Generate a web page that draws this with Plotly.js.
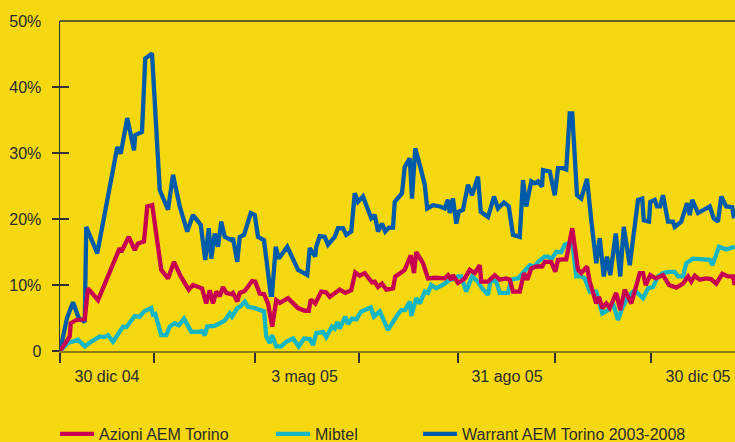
<!DOCTYPE html>
<html>
<head>
<meta charset="utf-8">
<script src="https://cdn.plot.ly/plotly-3.0.1.min.js"></script>
<style>html,body{margin:0;padding:0;background:#F5D80F;}#chart{width:735px;height:442px;}</style>
</head>
<body>
<div id="chart"></div>
<script>
// time index (trading-session units) and percentage performance
const tWarrant = [0,2.8,5.2,7.5,9.9,10.5,14.9,22.9,24.3,26.9,29.6,30.1,32.8,34.1,36.8,39.9,43.2,45.2,47.9,50.9,53.2,56.3,58.1,59.5,60.5,61.9,63.2,64.5,65.9,68.5,69.2,70.9,71.9,73.6,76.3,77.9,79.2,81.6,84.3,84.8,86.3,87.5,90.9,95.2,98.9,99.9,102.1,102.5,103.9,105.9,107.2,109.9,111.2,113.2,114.5,116.5,117.9,119.2,121.2,124.5,125.9,127.2,128.8,130.1,131.6,133.2,133.9,135.9,136.8,137.9,139.9,140.8,142.1,143.9,145.9,146.9,149.2,152,153.9,155.2,155.9,157.2,158.5,159.5,161.2,163.2,164.8,167.2,168.3,171.2,172.3,173.6,175.2,177.6,179.5,181.2,183.9,185.2,186.5,188.5,189.9,191.2,192.8,193.2,195.9,197.9,199.2,201.2,202.5,203.9,204.9,206.8,208.5,210.8,212.5,214.5,215.9,217.5,218.8,220.1,222.3,224.1,225.5,227.9,231.2,232.9,233.5,235.6,236.1,237.9,238.8,240,241.2,243.2,245.2,245.9,248.5,250.8,251.9,252.9,255.2,257.9,259.9,261.5,263.2,264.5,266.5,268.9,269.6];
const vWarrant = [0,5.0,7.4,5.0,4.4,18.8,14.8,30.9,29.9,35.3,30.4,32.7,33.2,44.3,45.1,24.4,21.4,26.7,21.9,18.1,20.6,19.1,13.8,18.6,14.0,17.8,15.8,19.6,17.3,16.8,17.1,13.5,17.3,17.6,20.9,20.6,17.3,16.8,8.5,8.5,15.8,14.0,15.8,12.3,11.5,15.6,14.3,15.8,17.4,17.3,16.1,17.3,18.6,18.6,17.6,18.1,23.9,22.6,23.4,20.1,20.6,18.1,19.3,18.1,18.7,18.7,22.6,23.4,23.9,27.9,29.2,23.1,30.7,28.2,25.2,21.6,22.1,21.9,21.6,22.9,20.9,23.1,19.3,21.1,21.4,25.2,23.6,26.4,21.1,20.3,21.6,23.4,21.6,22.5,21.9,17.6,17.3,25.9,21.9,25.7,25.4,25.7,24.9,27.4,27.2,23.6,27.7,27.7,27.5,36.0,36.0,23.6,23.1,26.1,19.8,13.3,17.1,11.3,14.3,11.5,17.8,11.3,18.8,13.0,22.9,23.1,19.8,19.6,22.6,22.9,21.9,21.9,23.6,19.6,19.6,18.8,19.6,22.4,20.6,22.9,20.9,21.4,21.9,20.1,19.6,23.4,21.9,21.8,20.1];

const tAzioni = [0,3.9,4.3,6.5,9.9,11.2,15.2,23.9,24.5,27.5,29.9,31.2,33.6,34.9,36.9,40.5,43.2,45.6,48.3,51.5,53.2,56.8,58.5,59.9,61.2,62.5,63.9,65.2,66.5,68.5,69.2,70.9,71.9,73.9,76.8,78.1,79.9,81.6,83.2,84.9,86.5,87.9,91.2,95.2,97.9,99.5,100.3,102.1,104.5,106.4,107.9,110.5,111.9,114.1,116.5,118.1,119.9,121.9,124.8,125.9,127.2,128.8,130.5,133.2,134.1,136.5,137.9,140.3,141.6,142.5,145.2,147.2,150,153.9,155.2,156.5,157.2,159.2,161.9,163.9,165.9,167.9,168.5,171.2,173.9,175.9,178.5,179.9,181.2,183.9,185.6,186.9,188.5,190.5,192.8,193.9,196.5,198.1,199.2,201.9,202.5,204.9,207.2,208.5,210.8,211.9,214.5,215.6,216.9,218.5,219.9,222.5,224.1,225.9,226.8,228.5,231.9,233.2,234.3,236.1,238.3,241.2,243.6,246.5,249.2,251.2,252.5,253.9,255.9,258.5,260.4,262.5,264.9,267.2,269.2,269.9];
const vAzioni = [0,2.2,4.2,4.7,4.8,9.5,7.7,15.6,15.0,17.3,15.3,16.3,16.6,21.9,22.1,12.3,11.0,13.5,11.3,9.3,10.0,9.5,7.2,9.2,7.2,9.0,8.3,9.7,8.8,8.6,8.8,7.5,8.8,9.1,10.6,10.5,8.7,8.6,7.2,3.7,7.7,7.3,8.0,6.5,6.1,6.1,7.8,7.2,9.0,8.9,8.2,9.0,9.3,8.8,9.2,11.9,11.4,11.8,10.4,10.5,9.7,10.2,9.3,9.5,11.3,11.9,12.3,14.5,11.8,15.0,13.3,11.0,11.1,11.0,11.5,10.8,11.5,10.3,11.0,12.3,11.8,13.0,10.5,10.5,11.5,10.8,11.0,10.8,9.0,9.0,11.8,10.8,12.5,12.8,12.8,13.5,13.5,12.0,13.8,13.9,13.9,18.6,12.3,11.8,12.8,10.5,7.2,8.2,6.5,7.2,6.5,8.8,6.2,9.3,8.6,7.2,11.8,11.8,10.0,11.5,11.0,11.5,10.0,9.6,10.2,11.3,10.5,11.4,10.8,11.0,10.9,10.2,11.7,11.3,11.3,10.0];

const tMibtel = [0,3.2,7.2,9.9,12.5,15.9,17.6,19.2,21.2,25.2,26.5,29.9,31.9,33.6,36.5,37.2,38.1,40.5,42.5,43.9,45.9,47.5,49.6,52.5,55.2,56.8,57.9,58.9,61.9,64.5,65.9,67.9,68.8,70.9,72.3,73.9,75.2,77.9,81.6,82.5,83.9,84.8,86.5,88.5,90.5,93.2,95.5,97.6,99.9,101.2,102.5,105.2,106.5,108.8,109.9,110.9,111.9,114.1,115.2,116.8,118.5,120.5,122.1,124.3,125.6,127.9,131.2,133.9,135.2,136.5,138,139.9,140.5,142.5,143.9,145.9,147.2,148.5,150.5,153.9,155.9,157.9,159.2,160.5,162.5,164.8,167.2,168.8,171.2,172.3,174.5,175.9,179.2,180.5,183.2,185.6,187.9,189.9,191.2,193.9,195.2,196.5,198.5,200.5,201.9,203.2,204.9,206.5,208.5,209.9,211.9,214.5,216.9,219.2,221.2,223.2,224.9,227.2,229.9,233.2,235.2,237.2,239.2,241.2,243.6,245.9,247.2,249.2,250.5,253.2,257.2,259.9,260.9,262.5,263.6,266.5,269.9];
const vMibtel = [0,1.2,1.7,0.7,1.4,2.2,2.1,2.4,1.4,3.7,3.6,5.3,5.2,6.0,6.5,5.5,5.6,2.4,2.4,3.7,4.2,3.9,4.9,2.9,2.9,3.0,2.4,3.7,3.8,4.4,4.6,5.7,5.2,6.5,6.8,7.5,6.7,6.5,6.0,2.2,1.2,2.4,0.7,0.7,1.4,1.9,0.7,1.9,1.8,0.9,2.7,2.9,2.1,3.7,3.4,4.4,3.4,5.2,4.1,4.9,4.8,6.0,6.2,6.6,5.2,6.0,3.2,4.9,5.6,6.2,6.2,7.5,5.3,8.0,7.2,9.0,8.8,10.0,9.5,10.2,10.8,10.9,11.3,11.3,9.0,11.3,10.5,9.5,8.5,10.8,10.5,8.8,8.8,10.8,11.0,12.0,13.0,12.8,13.5,14.3,14.3,13.9,15.0,15.0,16.1,16.3,16.5,11.3,11.3,11.0,9.0,9.0,5.7,6.2,7.2,4.7,6.5,8.2,9.2,8.0,9.5,9.7,11.3,11.8,12.0,12.0,11.3,11.3,13.3,14.0,13.9,13.8,13.0,14.5,15.8,15.4,15.8];

const tickPositions = [0,37.6,78,119.6,159.2,198,236.4];
const dateLabelPositions = [18.8,97.8,178.8,255.2];
const dateLabels = ['30 dic 04','3 mag 05','31 ago 05','30 dic 05'];
const yTickVals = [0,10,20,30,40,50];
const yTickText = ['0','10%','20%','30%','40%','50%'];
const yMarkVals = [0,10,20,30,40];

const BG = '#F5D80F';
const INK = '#2b2b2b';
const FONT = 'Liberation Sans, Arial, Helvetica, sans-serif';

const traces = [
  {x: tMibtel, y: vMibtel, name: 'Mibtel', type: 'scatter', mode: 'lines',
   line: {color: '#14B6C3', width: 4.3}, legend: 'legend2', hoverinfo: 'skip'},
  {x: tWarrant, y: vWarrant, name: 'Warrant AEM Torino 2003-2008', type: 'scatter', mode: 'lines',
   line: {color: '#005BAA', width: 4.3}, legend: 'legend3', hoverinfo: 'skip'},
  {x: tAzioni, y: vAzioni, name: 'Azioni AEM Torino', type: 'scatter', mode: 'lines',
   line: {color: '#C7004F', width: 4.3}, legend: 'legend', hoverinfo: 'skip'},
  {x: [null], y: [null], xaxis: 'x2', yaxis: 'y2', showlegend: false, mode: 'lines', hoverinfo: 'skip'},
  {x: [null], y: [null], xaxis: 'x', yaxis: 'y3', showlegend: false, mode: 'lines', hoverinfo: 'skip'}
];

const legendBase = {orientation: 'h', xref: 'container', yref: 'container', xanchor: 'left', yanchor: 'middle',
  y: 0.018, itemwidth: 34, bgcolor: 'rgba(0,0,0,0)', borderwidth: 0, font: {family: FONT, size: 16, color: INK}};

const layout = {
  width: 735, height: 442,
  margin: {l: 60, r: 0, t: 21, b: 91, autoexpand: false},
  paper_bgcolor: BG, plot_bgcolor: BG,
  font: {family: FONT, size: 16, color: INK},
  showlegend: true,
  legend: Object.assign({}, legendBase, {x: 55/735}),
  legend2: Object.assign({}, legendBase, {x: 271/735}),
  legend3: Object.assign({}, legendBase, {x: 418/735}),
  xaxis: {range: [0, 270], tickmode: 'array', tickvals: tickPositions, ticktext: tickPositions.map(() => ''),
    ticks: 'outside', ticklen: 10, tickwidth: 1.5, tickcolor: '#333',
    showline: true, linecolor: '#8C7A14', linewidth: 2, showgrid: false, zeroline: false, fixedrange: true},
  xaxis2: {overlaying: 'x', side: 'bottom', range: [0, 270], tickmode: 'array', tickvals: dateLabelPositions,
    ticktext: dateLabels, ticks: '', ticklabelstandoff: 14, showline: false, showgrid: false, zeroline: false,
    tickfont: {family: FONT, size: 16, color: INK}},
  yaxis: {range: [0, 50], tickmode: 'array', tickvals: yTickVals, ticktext: yTickText, ticks: '',
    ticklabelstandoff: 14, showline: true, linecolor: '#333', linewidth: 1.5, showgrid: false, zeroline: false,
    tickfont: {family: FONT, size: 16, color: INK}},
  yaxis2: {overlaying: 'y', range: [0, 50], tickmode: 'array', tickvals: yMarkVals, ticks: 'outside', ticklen: 7,
    tickwidth: 1.5, tickcolor: '#333', showticklabels: false, showline: false, showgrid: false, zeroline: false},
  yaxis3: {overlaying: 'y', range: [0, 50], tickmode: 'array', tickvals: yMarkVals, ticks: 'inside', ticklen: 9,
    tickwidth: 1.5, tickcolor: '#333', showticklabels: false, showline: false, showgrid: false, zeroline: false},
  shapes: [{type: 'line', xref: 'paper', yref: 'paper', x0: 0, x1: 1, y0: 1, y1: 1,
    line: {color: '#333', width: 1.5}}]
};

Plotly.newPlot('chart', traces, layout, {staticPlot: true, displayModeBar: false});
</script>
</body>
</html>
